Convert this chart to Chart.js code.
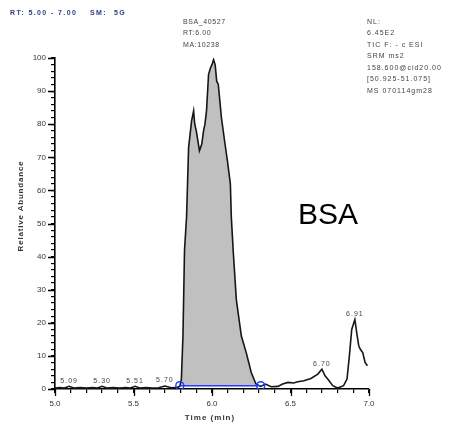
<!DOCTYPE html>
<html>
<head>
<meta charset="utf-8">
<script src="https://cdn.jsdelivr.net/npm/chart.js@4/dist/chart.umd.min.js"></script>
<style>
  html, body { margin: 0; padding: 0; background: #fff; }
  #wrap { width: 454px; height: 423px; position: relative; }
</style>
</head>
<body>
<div id="wrap"><canvas id="chromChart" width="454" height="423"></canvas></div>
<script>
// retention time (min) and relative abundance of the trace
const times = [5.00, 5.03, 5.06, 5.09, 5.12, 5.16, 5.20, 5.24, 5.27, 5.30, 5.33, 5.37, 5.41, 5.45, 5.48, 5.51,
    5.54, 5.58, 5.62, 5.66, 5.70, 5.74, 5.78, 5.795, 5.805, 5.815, 5.825, 5.838, 5.851, 5.87, 5.883, 5.89,
    5.90, 5.92, 5.935, 5.946, 5.955, 5.965, 5.978, 5.99, 6.00, 6.01, 6.02, 6.03, 6.04, 6.06, 6.08, 6.098,
    6.117, 6.123, 6.136, 6.155, 6.187, 6.218, 6.25, 6.28, 6.31, 6.34, 6.377, 6.42, 6.45, 6.484, 6.52, 6.547,
    6.585, 6.63, 6.674, 6.70, 6.72, 6.737, 6.769, 6.80, 6.838, 6.86, 6.875, 6.89, 6.91, 6.925, 6.935, 6.945,
    6.96, 6.975, 6.99];
const abundance = [0.3, 0.4, 0.3, 0.8, 0.3, 0.4, 0.3, 0.4, 0.3, 0.8, 0.3, 0.4, 0.3, 0.4, 0.3, 0.8,
    0.3, 0.4, 0.3, 0.4, 0.9, 0.4, 0.5, 0.8, 3, 16, 42, 52, 73, 81, 84, 80,
    78, 72, 74, 78, 80, 84, 95, 97, 98, 99.5, 98, 93, 92, 82, 75, 69,
    62, 52, 41, 27, 16, 11, 5, 1.5, 0.8, 1.5, 0.7, 0.8, 1.5, 2, 1.8, 2.2,
    2.5, 3.2, 4.5, 6, 4, 3, 1, 0.3, 1, 3, 10, 18, 21, 16, 13, 12,
    11, 8, 7];

// integrated peak and its baseline
const peakStart = 5.795;
const peakEnd = 6.31;
const baselineLevel = 1;

// labelled apex times
const labelTimes = [5.09, 5.30, 5.51, 5.70, 6.70, 6.91];

const peakInfo = ["BSA_40527", "RT:6.00", "MA:10238"];
const headerRight = ["NL:", "6.45E2", "TIC F: - c ESI", "SRM ms2", "158.600@cid20.00", "[50.925-51.075]", "MS 070114gm28"];

const tracePoints = times.map((t, i) => ({ x: t, y: abundance[i] }));
const peakPoints = tracePoints.filter(p => p.x >= peakStart && p.x <= peakEnd);

function valueAt(t) {
    let i = times.findIndex(v => Math.abs(v - t) < 1e-6);
    return i >= 0 ? abundance[i] : 0;
}

const textPlugin = {
    id: "textPlugin",
    afterDraw(chart) {
        const c = chart.ctx;
        const xs = chart.scales.x, ys = chart.scales.y;
        const area = chart.chartArea;
        c.save();

        // longer ticks at labelled values
        c.strokeStyle = "#000";
        c.lineWidth = 1.3;
        c.beginPath();
        xs.ticks.forEach(t => {
            if (Math.abs(t.value * 2 - Math.round(t.value * 2)) < 1e-6) {
                const px = Math.round(xs.getPixelForValue(t.value)) + 0.5;
                c.moveTo(px, area.bottom);
                c.lineTo(px, area.bottom + 7);
            }
        });
        ys.ticks.forEach(t => {
            if (t.value % 10 === 0) {
                const py = Math.round(ys.getPixelForValue(t.value)) + 0.5;
                c.moveTo(area.left, py);
                c.lineTo(area.left - 7, py);
            }
        });
        c.stroke();

        // header
        c.font = "bold 7px 'Liberation Sans', Arial";
        c.letterSpacing = "1.4px";
        c.textBaseline = "middle";
        c.textAlign = "left";
        c.fillStyle = "#2e3a8a";
        c.fillText("RT: 5.00 - 7.00", 10, 13);
        c.fillText("SM:", 90, 13);
        c.fillText("5G", 114, 13);

        // peak info above the main peak
        c.font = "7px 'Liberation Sans', Arial";
        c.letterSpacing = "0.6px";
        c.fillStyle = "#444";
        peakInfo.forEach((s, i) => c.fillText(s, 183, 22 + i * 11.5));

        // scan info top right
        c.letterSpacing = "1px";
        headerRight.forEach((s, i) => c.fillText(s, 367, 22 + i * 11.5));

        // apex labels
        c.textAlign = "center";
        c.textBaseline = "bottom";
        c.letterSpacing = "1px";
        labelTimes.forEach(t => {
            const px = xs.getPixelForValue(t);
            const py = ys.getPixelForValue(valueAt(t));
            c.fillText(t.toFixed(2), px, py - 2);
        });

        // big label
        c.font = "30px 'Liberation Sans', Arial";
        c.letterSpacing = "0px";
        c.fillStyle = "#000";
        c.textBaseline = "middle";
        c.fillText("BSA", 328, 216);

        // axis titles
        c.font = "bold 8px 'Liberation Sans', Arial";
        c.letterSpacing = "1px";
        c.fillStyle = "#333";
        c.fillText("Time (min)", 210, 418);
        c.translate(21, 206);
        c.rotate(-Math.PI / 2);
        c.letterSpacing = "0.8px";
        c.fillText("Relative Abundance", 0, 0);

        c.restore();
    }
};

new Chart(document.getElementById("chromChart").getContext("2d"), {
    type: "line",
    data: {
        datasets: [
            {
                label: "baseline",
                data: [{ x: peakStart, y: baselineLevel }, { x: peakEnd, y: baselineLevel }],
                borderColor: "#1f3cff",
                borderWidth: 1.6,
                pointRadius: 4,
                pointBorderWidth: 1.4,
                pointBorderColor: "#1f3cff",
                pointBackgroundColor: "rgba(0,0,0,0)",
                fill: false,
                order: 0
            },
            {
                label: "trace",
                data: tracePoints,
                borderColor: "#161616",
                borderWidth: 1.6,
                pointRadius: 0,
                tension: 0,
                fill: false,
                order: 1
            },
            {
                label: "peak area",
                data: peakPoints,
                borderWidth: 0,
                borderColor: "rgba(0,0,0,0)",
                backgroundColor: "#c0c0c0",
                pointRadius: 0,
                fill: { value: baselineLevel },
                order: 2
            }
        ]
    },
    options: {
        responsive: false,
        animation: false,
        events: [],
        layout: { padding: { left: 0, top: 58, right: 85, bottom: 12 } },
        plugins: { legend: { display: false }, tooltip: { enabled: false } },
        scales: {
            x: {
                type: "linear",
                min: 5.0,
                max: 7.0,
                afterFit(scale) { scale.height = 22; },
                border: { display: true, color: "#000", width: 1.6 },
                grid: { drawOnChartArea: false, drawTicks: true, tickLength: 4, color: "#000", lineWidth: 1.2 },
                ticks: {
                    stepSize: 0.1,
                    autoSkip: false,
                    maxRotation: 0,
                    padding: 6,
                    color: "#333",
                    font: { size: 8, family: "'Liberation Sans', Arial" },
                    callback: v => Math.abs(v * 2 - Math.round(v * 2)) < 1e-6 ? v.toFixed(1) : ""
                }
            },
            y: {
                min: 0,
                max: 100,
                afterFit(scale) { scale.width = 55; },
                border: { display: true, color: "#000", width: 1.6 },
                grid: { drawOnChartArea: false, drawTicks: true, tickLength: 4, color: "#000", lineWidth: 1.2 },
                ticks: {
                    stepSize: 2,
                    autoSkip: false,
                    padding: 5,
                    color: "#333",
                    font: { size: 8, family: "'Liberation Sans', Arial" },
                    callback: v => v % 10 === 0 ? String(v) : ""
                }
            }
        }
    },
    plugins: [textPlugin]
});
</script>
</body>
</html>
